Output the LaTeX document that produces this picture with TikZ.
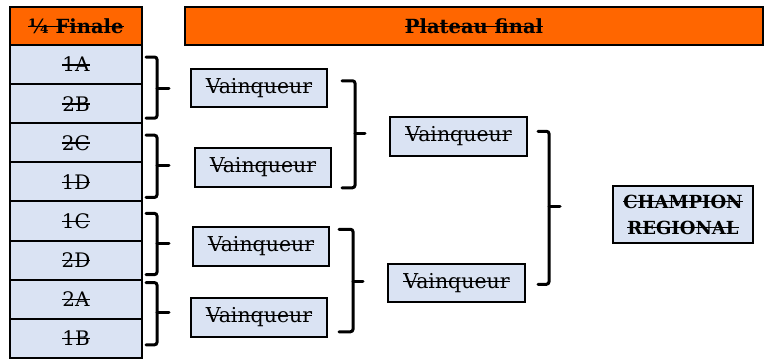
\documentclass[tikz,border=0pt]{standalone}
\usepackage{fontspec}
\setmainfont{DejaVu Serif}
\usepackage{tikz}
\usetikzlibrary{calc,positioning}

\definecolor{orangehead}{HTML}{FF6600}
\definecolor{bluecell}{HTML}{DAE3F3}
\newcommand{\strk}[1]{\setbox0\hbox{#1}\rlap{\rule[0.32em]{\wd0}{0.065em}}\box0}

\tikzset{
	cell/.style = {draw, line width = 2pt, outer sep = 0pt, fill = bluecell, minimum width = 132pt, minimum height = 39.1pt, inner sep = 0pt, font = \fontsize{20}{22}\selectfont},
	head/.style = {draw, line width = 2pt, outer sep = 0pt, fill = orangehead, minimum height = 38pt, inner sep = 0pt, font = \fontsize{19.5}{22}\selectfont\bfseries},
	winner/.style = {draw, line width = 2pt, fill = bluecell, minimum width = 136pt, minimum height = 38.5pt, inner sep = 0pt, font = \fontsize{20.5}{22}\selectfont},
	brk/.style = {line width = 3pt, rounded corners = 2.5pt, line cap = round}
}

\begin{document}
\begin{tikzpicture}[x = 1pt, y = -1pt]
			\useasboundingbox (0,0) rectangle (774,360);
			\node[head, minimum width = 132pt] (quart) at (76,26) {\strk{¼ Finale}};
			\node[head, minimum width = 578pt] (plateau) at (474,26) {\strk{Plateau final}};
			\node[cell, below = 0pt of quart] (q1) {\strk{1A}};
			\node[cell, below = 0pt of q1] (q2) {\strk{2B}};
			\node[cell, below = 0pt of q2] (q3) {\strk{2C}};
			\node[cell, below = 0pt of q3] (q4) {\strk{1D}};
			\node[cell, below = 0pt of q4] (q5) {\strk{1C}};
			\node[cell, below = 0pt of q5] (q6) {\strk{2D}};
			\node[cell, below = 0pt of q6] (q7) {\strk{2A}};
			\node[cell, below = 0pt of q7] (q8) {\strk{1B}};
			\node[winner] (w1) at (259,88) {\strk{Vainqueur}};
			\node[winner] (w2) at (263,167.5) {\strk{Vainqueur}};
			\node[winner] (w3) at (261,246.5) {\strk{Vainqueur}};
			\node[winner] (w4) at (259,317.5) {\strk{Vainqueur}};
			\node[winner, minimum width = 137pt] (s1) at (458.5,136.5) {\strk{Vainqueur}};
			\node[winner, minimum width = 137pt] (s2) at (456.5,283) {\strk{Vainqueur}};
			\node[winner, minimum width = 140pt, minimum height = 57pt, align = center, font = \fontsize{18}{26}\selectfont\bfseries] (champ) at (683,214.5) {\strk{CHAMPION}\\\strk{REGIONAL}};
			\draw[brk] ($(q1.north east)+(4,12)$) -- ++(11,0) |- ($(q2.south east)+(4,-5)$);
			\draw[brk] ($(q1.south east)+(15,4)$) -- ++(12,0);
			\draw[brk] ($(q3.north east)+(4,12)$) -- ++(11,0) |- ($(q4.south east)+(4,-4)$);
			\draw[brk] ($(q3.south east)+(15,3)$) -- ++(12,0);
			\draw[brk] ($(q5.north east)+(4,12)$) -- ++(11,0) |- ($(q6.south east)+(4,-5)$);
			\draw[brk] ($(q5.south east)+(15,2.5)$) -- ++(12,0);
			\draw[brk] ($(q7.north east)+(4,3)$) -- ++(11,0) |- ($(q8.south east)+(4,-13)$);
			\draw[brk] ($(q7.south east)+(15,-6)$) -- ++(12,0);
			\draw[brk] ($(w1.north east)+(14,13)$) -- ++(13,0) |- ($(w2.south east)+(10,0)$);
			\draw[brk] ($(w1.east)!.5!(w2.east)+(25,5.25)$) -- ++(10,0);
			\draw[brk] ($(w3.north east)+(9,3)$) -- ++(14,0) |- ($(w4.south east)+(11,-6)$);
			\draw[brk] ($(w3.east)!.5!(w4.east)+(24,-1)$) -- ++(10,0);
			\draw[brk] ($(s1.north east)+(10,15)$) -- ++(11,0) |- ($(s2.south east)+(12,-19)$);
			\draw[brk] ($(s1.east)!.5!(s2.east)+(22,-3)$) -- ++(11,0);
		\end{tikzpicture}
\end{document}
